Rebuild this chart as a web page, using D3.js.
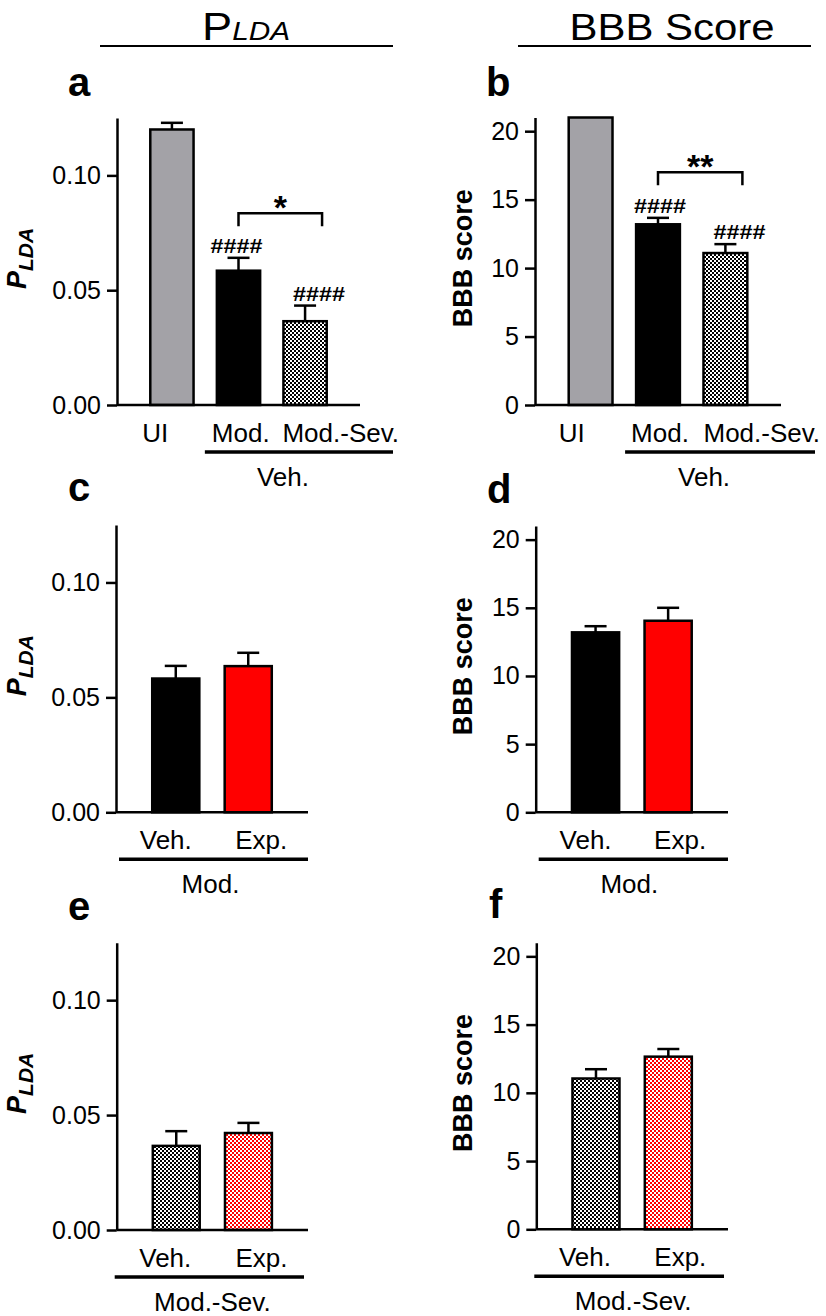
<!DOCTYPE html>
<html><head><meta charset="utf-8">
<script src="https://cdn.jsdelivr.net/npm/d3@7"></script>
<style>
body{margin:0;background:#fff}
svg{display:block}
text{font-family:"Liberation Sans",Arial,Helvetica,sans-serif;fill:#000}
</style>
</head><body>
<svg id="chart" width="826" height="1316"></svg>
<script>
// ---------- data ----------
const groupsA = ["UI", "Mod.", "Mod.-Sev."];
const pldaA = [0.1200, 0.0585, 0.0365];
const pldaAsem = [0.0029, 0.0056, 0.0068];
const bbbA = [21, 13.2, 11.1];
const bbbAsem = [0, 0.47, 0.65];
const groupsTx = ["Veh.", "Exp."];
const pldaMod = [0.0582, 0.0636];
const pldaModSem = [0.0055, 0.0058];
const bbbMod = [13.2, 14.05];
const bbbModSem = [0.45, 0.95];
const pldaSev = [0.0366, 0.0422];
const pldaSevSem = [0.0064, 0.0044];
const bbbSev = [11.05, 12.65];
const bbbSevSem = [0.68, 0.56];
const pldaTicks = [0, 0.05, 0.10];
const bbbTicks = [0, 5, 10, 15, 20];
const hashLabel = "####";

const svg = d3.select("#chart");
const defs = svg.append("defs");
function checker(id, color) {
  const p = defs.append("pattern").attr("id", id).attr("patternUnits", "userSpaceOnUse")
    .attr("width", 4).attr("height", 4);
  p.append("rect").attr("width", 4).attr("height", 4).attr("fill", "#fff");
  p.append("rect").attr("width", 2).attr("height", 2).attr("fill", color);
  p.append("rect").attr("x", 2).attr("y", 2).attr("width", 2).attr("height", 2).attr("fill", color);
}
checker("chkBlack", "#000");
checker("chkRed", "#ff0000");

const GRAY = "#a3a2a7", BLACK = "#000", RED = "#ff0000";
const fmtP = d3.format(".2f"), fmtB = d3.format("d");

function panel(o) {
  const g = svg.append("g");
  const y = d3.scaleLinear().domain([0, o.max]).range([o.yBase, o.yTop]);
  const x = d3.scaleBand().domain(o.cats).range([o.x0, o.x1]).paddingInner(0.35).paddingOuter(0.5);
  const bw = x.bandwidth();
  const cx = c => x(c) + bw / 2;

  // bars
  g.selectAll("rect.bar").data(o.cats).join("rect").attr("class", "bar")
    .attr("x", c => x(c)).attr("width", bw)
    .attr("y", (c, i) => y(o.vals[i])).attr("height", (c, i) => o.yBase - y(o.vals[i]))
    .attr("fill", (c, i) => o.fills[i]).attr("stroke", "#000").attr("stroke-width", 2.5);

  // error bars (upper only)
  o.cats.forEach((c, i) => {
    if (!o.sems[i]) return;
    const yt = y(o.vals[i] + o.sems[i]);
    g.append("line").attr("x1", cx(c)).attr("x2", cx(c)).attr("y1", y(o.vals[i])).attr("y2", yt)
      .attr("stroke", "#000").attr("stroke-width", 2.5);
    g.append("line").attr("x1", cx(c) - 11).attr("x2", cx(c) + 11).attr("y1", yt).attr("y2", yt)
      .attr("stroke", "#000").attr("stroke-width", 2.5);
  });

  // y axis
  const ax = g.append("g").attr("transform", `translate(${o.x0},0)`)
    .call(d3.axisLeft(y).tickValues(o.ticks).tickFormat(o.fmt).tickSize(10).tickPadding(6).tickSizeOuter(0));
  ax.select(".domain").attr("stroke", "#000").attr("stroke-width", 2.5);
  ax.selectAll(".tick line").attr("stroke", "#000").attr("stroke-width", 2.5);
  ax.selectAll(".tick text").attr("font-size", 25).attr("fill", "#000")
    .attr("font-family", '"Liberation Sans",Arial,sans-serif');
  // x axis baseline
  g.append("line").attr("x1", o.x0).attr("x2", o.x1).attr("y1", o.yBase).attr("y2", o.yBase)
    .attr("stroke", "#000").attr("stroke-width", 2.5);

  // category labels
  o.cats.forEach((c, i) => {
    g.append("text").attr("x", (o.catAnchor === "start" ? x(c) : cx(c)) + o.catDx[i])
      .attr("y", o.yBase + 37).attr("font-size", 26)
      .attr("text-anchor", o.catAnchor || "middle").text(c);
  });

  // group line + label
  const gl0 = o.groupFrom ? x(o.groupFrom) + o.glDx[0] : o.x0 + o.glDx[0];
  const gl1 = o.x1 + o.glDx[1];
  g.append("line").attr("x1", gl0).attr("x2", gl1).attr("y1", o.yBase + 47).attr("y2", o.yBase + 47)
    .attr("stroke", "#000").attr("stroke-width", 3.5);
  g.append("text").attr("x", (gl0 + gl1) / 2 + o.groupDx).attr("y", o.yBase + 81)
    .attr("font-size", 26).attr("text-anchor", "middle").text(o.group);

  // y label
  const yl = g.append("text").attr("text-anchor", "middle")
    .attr("transform", `translate(${o.ylX},${(o.yTop + o.yBase) / 2 - 3}) rotate(-90)`)
    .attr("font-weight", "bold");
  if (o.ylab === "plda") {
    yl.append("tspan").attr("font-size", 27).attr("font-style", "italic").text("P");
    yl.append("tspan").attr("font-size", 21).attr("font-style", "italic").attr("dy", 7).text("LDA");
  } else {
    yl.attr("font-size", 27).text("BBB score");
  }

  // panel letter
  g.append("text").attr("x", o.letterX).attr("y", o.letterY).attr("font-size", 40)
    .attr("font-weight", "bold").text(o.letter);

  // hashes
  if (o.hash) {
    o.cats.forEach((c, i) => {
      if (!o.hash[i]) return;
      g.append("text").attr("x", cx(c) + o.hashDx[i]).attr("y", y(o.vals[i] + o.sems[i]) - 5)
        .attr("text-anchor", "middle").attr("font-family", '"Liberation Serif","Times New Roman",serif')
        .attr("font-weight", "bold").attr("font-size", 21)
        .attr("textLength", 52).attr("lengthAdjust", "spacingAndGlyphs").text(hashLabel);
    });
  }
  // significance bracket
  if (o.bracket) {
    const b = o.bracket;
    const bx0 = cx(o.cats[b.from]), bx1 = cx(o.cats[b.to]) + 17, by = y(b.level);
    g.append("path").attr("d", `M${bx0},${by + 13}V${by}H${bx1}V${by + 13}`)
      .attr("fill", "none").attr("stroke", "#000").attr("stroke-width", 2.5);
    g.append("text").attr("x", (bx0 + bx1) / 2).attr("y", by + 6).attr("text-anchor", "middle")
      .attr("font-size", 34).attr("font-weight", "bold").text(b.label);
  }
}

// titles
svg.append("text").attr("x", 246).attr("y", 40).attr("text-anchor", "middle")
  .attr("textLength", 88).attr("lengthAdjust", "spacingAndGlyphs")
  .call(t => {
    t.append("tspan").attr("font-size", 38).text("P");
    t.append("tspan").attr("font-size", 25).attr("font-style", "italic").text("LDA");
  });
svg.append("line").attr("x1", 100).attr("x2", 393).attr("y1", 46).attr("y2", 46)
  .attr("stroke", "#000").attr("stroke-width", 2.2);
svg.append("text").attr("x", 672).attr("y", 39.5).attr("text-anchor", "middle")
  .attr("font-size", 37).attr("textLength", 205).attr("lengthAdjust", "spacingAndGlyphs").text("BBB Score");
svg.append("line").attr("x1", 518).attr("x2", 811).attr("y1", 46).attr("y2", 46)
  .attr("stroke", "#000").attr("stroke-width", 2.2);

// panel a
panel({x0: 117, x1: 360, yTop: 118, yBase: 405, max: 0.125, cats: groupsA, vals: pldaA, sems: pldaAsem,
  fills: [GRAY, BLACK, "url(#chkBlack)"], ticks: pldaTicks, fmt: fmtP, ylab: "plda", ylX: 26,
  catAnchor: "start", catDx: [-8, -5, -1], group: "Veh.", groupFrom: "Mod.", glDx: [-12, 33], groupDx: -16,
  letter: "a", letterX: 68, letterY: 96, hash: [false, true, true], hashDx: [0, -2, 14],
  bracket: {from: 1, to: 2, level: 0.0835, label: "*"}});
// panel b
panel({x0: 535, x1: 781, yTop: 117.5, yBase: 405, max: 21, cats: groupsA, vals: bbbA, sems: bbbAsem,
  fills: [GRAY, BLACK, "url(#chkBlack)"], ticks: bbbTicks, fmt: fmtB, ylab: "bbb", ylX: 472,
  catAnchor: "start", catDx: [-10, -5, 0], group: "Veh.", groupFrom: "Mod.", glDx: [-11, 34], groupDx: -16,
  letter: "b", letterX: 486, letterY: 96, hash: [false, true, true], hashDx: [0, 2, 14],
  bracket: {from: 1, to: 2, level: 17, label: "**"}});
// panel c
panel({x0: 116, x1: 308, yTop: 525, yBase: 812.3, max: 0.125, cats: groupsTx, vals: pldaMod, sems: pldaModSem,
  fills: [BLACK, RED], ticks: pldaTicks, fmt: fmtP, ylab: "plda", ylX: 26,
  catDx: [-10, 13], group: "Mod.", glDx: [3, 0], groupDx: -3,
  letter: "c", letterX: 68, letterY: 501});
// panel d
panel({x0: 535.7, x1: 728, yTop: 526, yBase: 812.3, max: 21, cats: groupsTx, vals: bbbMod, sems: bbbModSem,
  fills: [BLACK, RED], ticks: bbbTicks, fmt: fmtB, ylab: "bbb", ylX: 472,
  catDx: [-10, 12], group: "Mod.", glDx: [3, 0], groupDx: -4,
  letter: "d", letterX: 487, letterY: 503});
// panel e
panel({x0: 116.7, x1: 308, yTop: 942.7, yBase: 1230, max: 0.125, cats: groupsTx, vals: pldaSev, sems: pldaSevSem,
  fills: ["url(#chkBlack)", "url(#chkRed)"], ticks: pldaTicks, fmt: fmtP, ylab: "plda", ylX: 26,
  catDx: [-11, 13], group: "Mod.-Sev.", glDx: [-2, -4], groupDx: 3,
  letter: "e", letterX: 68, letterY: 920});
// panel f
panel({x0: 536.3, x1: 728, yTop: 942.7, yBase: 1229.3, max: 21, cats: groupsTx, vals: bbbSev, sems: bbbSevSem,
  fills: ["url(#chkBlack)", "url(#chkRed)"], ticks: bbbTicks, fmt: fmtB, ylab: "bbb", ylX: 472,
  catDx: [-11, 12], group: "Mod.-Sev.", glDx: [-2, -4], groupDx: 4,
  letter: "f", letterX: 489, letterY: 918});
</script>
</body></html>
